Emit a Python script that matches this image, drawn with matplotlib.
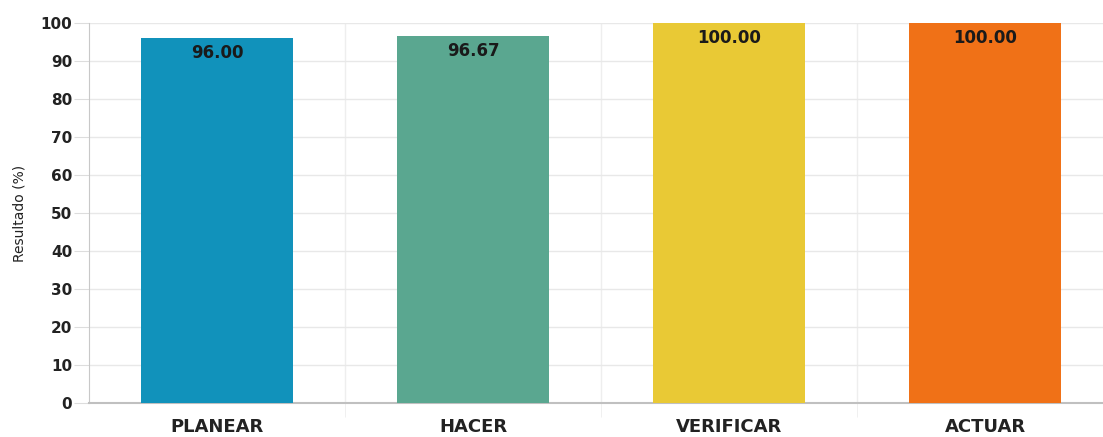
import matplotlib
matplotlib.use("Agg")
import matplotlib.pyplot as plt
from matplotlib.ticker import FixedLocator

categories = ["PLANEAR", "HACER", "VERIFICAR", "ACTUAR"]
values = [96.00, 96.67, 100.00, 100.00]
colors = ["#1192bb", "#5aa790", "#e9c935", "#f07117"]
yticks = list(range(0, 101, 10))

plt.rcParams['font.family'] = ['DejaVu Sans']

fig = plt.figure(figsize=(11.03, 4.37), dpi=100)
ax = fig.add_axes([89/1103, 1 - 403/437, 1 - 89/1103, (403 - 23)/437])

x = list(range(len(categories)))
ax.bar(x, values, width=0.595, color=colors, zorder=3)

ax.set_ylim(0, 100)
ax.set_xlim(-0.5, -0.5 + (1103 - 89) / 256)
ax.set_yticks(yticks)
ax.set_xticks(x)
ax.set_xticklabels(categories, fontsize=13, fontweight='bold', color='#222222')
ax.xaxis.set_minor_locator(FixedLocator([0.5, 1.5, 2.5]))

ax.grid(axis='y', which='major', color='#e8e8e8', linewidth=1, zorder=0)
ax.grid(axis='x', which='minor', color='#eeeeee', linewidth=1, zorder=0)

for s in ['top', 'right']:
    ax.spines[s].set_visible(False)
ax.spines['left'].set_color('#c8c8c8')
ax.spines['bottom'].set_color('#c0c0c0')
ax.spines['bottom'].set_linewidth(1.5)

ax.tick_params(axis='y', length=11, color='#dddddd', labelsize=11, labelcolor='#222222', pad=1)
for lbl in ax.get_yticklabels():
    lbl.set_fontweight('bold')
ax.tick_params(axis='x', which='major', length=0, pad=11)
ax.tick_params(axis='x', which='minor', length=10, color='#eeeeee')

ax.set_ylabel("Resultado (%)", fontsize=10, color='#222222', labelpad=10)

for xi, v in zip(x, values):
    ax.annotate(f"{v:.2f}", xy=(xi, v), xytext=(0, -11), textcoords='offset points',
                ha='center', va='center', fontsize=12, fontweight='bold', color='#1a1a1a', zorder=4)

fig.savefig("out.png", dpi=100)
